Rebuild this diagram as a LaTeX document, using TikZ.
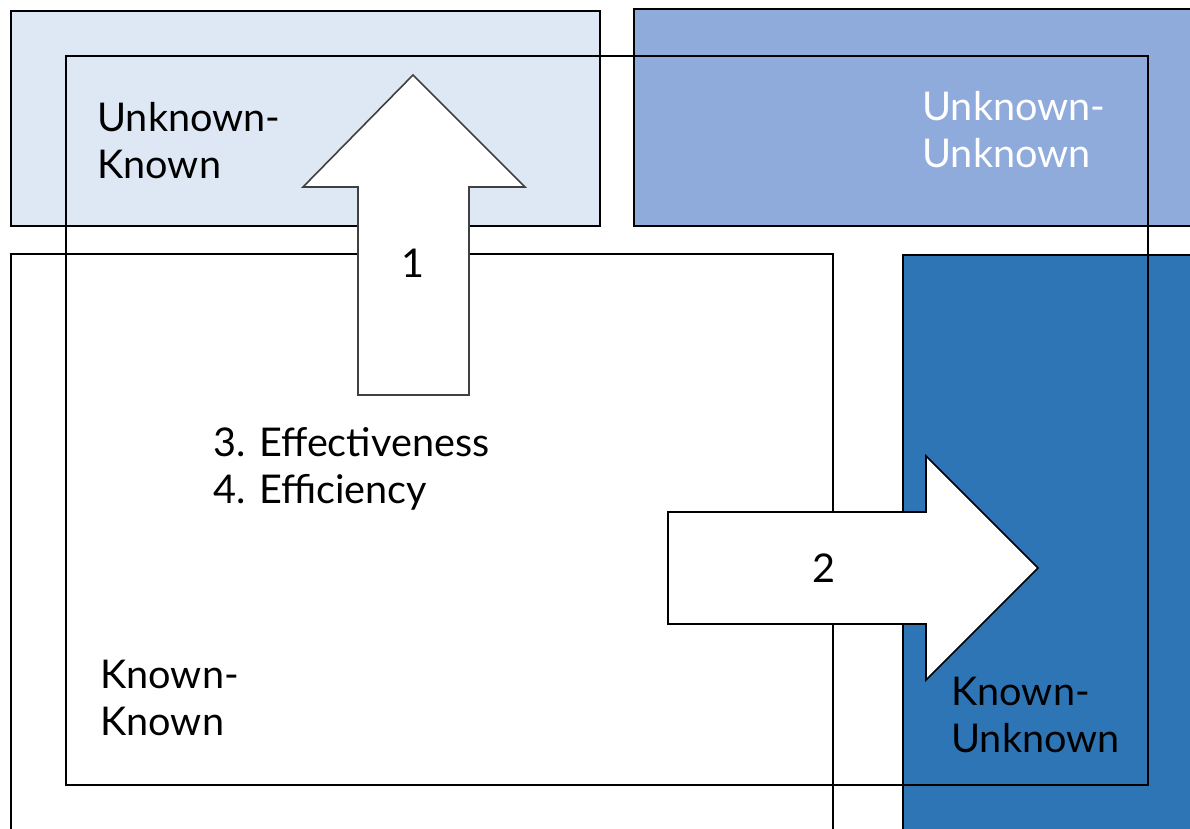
\documentclass[tikz,border=0pt]{standalone}
\usepackage{fontspec}
\setmainfont{Lato}
\definecolor{ukfill}{HTML}{DEE8F4}
\definecolor{uufill}{HTML}{8FABDC}
\definecolor{kufill}{HTML}{2E75B6}
\definecolor{arrowedge}{HTML}{404040}
\begin{document}
\begin{tikzpicture}[x=0.5pt,y=-0.5pt,
  box/.style={draw=black, line width=1pt},
  blockarrow/.style={fill=white, line width=0.8pt, line join=miter},
  lbl/.style={font=\fontsize{19.8pt}{23.5pt}\selectfont, inner sep=0pt, align=left, anchor=base west}]
\useasboundingbox (0,0) rectangle (1190,829);
\begin{scope}
  \clip (0,0) rectangle (1190,829);
  % quadrant boxes
  \draw[box, fill=ukfill] (11,11) rectangle (600,226);
  \draw[box, fill=uufill] (634,9) rectangle (1200,226);
  \draw[box, fill=white] (11,254) rectangle (833,840);
  \draw[box, fill=kufill] (903,255) rectangle (1200,840);
  % enclosing frame
  \draw[box] (66,56) rectangle (1148,785);
\end{scope}
% block arrow 1 (upwards)
\draw[blockarrow, draw=arrowedge]
  (358,395) -- (358,187) -- (303,187) -- (413,75) -- (525,187) -- (469,187) -- (469,395) -- cycle;
% block arrow 2 (rightwards)
\draw[blockarrow, draw=black]
  (668,512) -- (926,512) -- (926,456) -- (1038,568) -- (926,680) -- (926,624) -- (668,624) -- cycle;
% labels (placed at the baseline of their last line)
\node[lbl] (uk) at (97,178) {Unknown-\\Known};
\node[lbl, text=white] (uu) at (922,168) {Unknown-\\Unknown};
\node[lbl] (ku) at (951,752) {Known-\\Unknown};
\node[lbl] (kk) at (100,735) {Known-\\Known};
\node[lbl] (eff) at (213,503) {3. Effectiveness\\4. Efficiency};
\node[lbl, anchor=base] (n1) at (413,278) {1};
\node[lbl, anchor=base] (n2) at (824,582) {2};
\end{tikzpicture}
\end{document}
